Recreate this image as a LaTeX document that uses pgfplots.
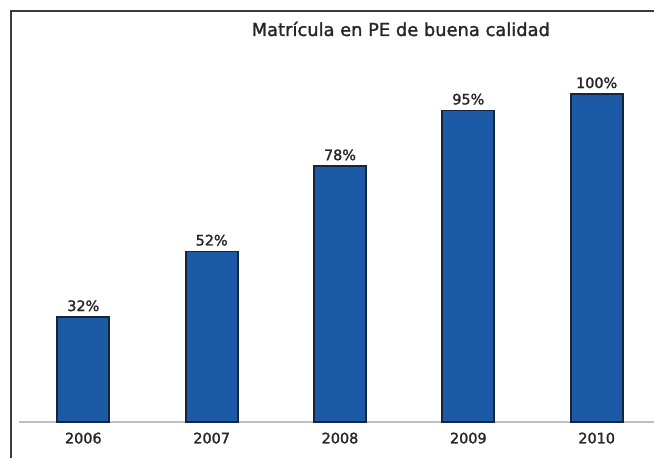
\documentclass[border=0pt]{standalone}
\usepackage{pgfplots}
\pgfplotsset{compat=1.18}
\usepackage{fontspec}
\setmainfont{DejaVu Sans}[BoldFont={DejaVu Sans}, BoldFeatures={FakeBold=1.5}]
\definecolor{barblue}{HTML}{1C5AA6}
\definecolor{barline}{HTML}{15253E}
\definecolor{txt}{HTML}{262626}
\begin{document}
\begin{tikzpicture}
\useasboundingbox (0,0) rectangle (490.5pt,343.5pt);
\fill[white] (0,0) rectangle (490.5pt,343.5pt);
\draw[line width=1.5pt, color=txt!90] (8.25pt,0) -- (8.25pt,335.25pt) -- (490.5pt,335.25pt);
\node[anchor=base, font=\fontsize{13.4}{15}\selectfont\bfseries, text=txt, inner sep=0pt] at (300.6pt,316.5pt) {Matrícula en PE de buena calidad};
\begin{axis}[
  at={(62.5pt,27pt)}, anchor=origin,
  scale only axis, width=476.25pt, height=246pt,
  xmin=-0.501, xmax=4.447, ymin=0, ymax=100,
  clip=false,
  axis x line*=bottom, axis y line=none,
  x axis line style={-, draw=gray!50, line width=0.9pt},
  xtick={0,1,2,3,4},
  xticklabels={2006,2007,2008,2009,2010},
  xtick style={draw=none},
  xticklabel style={anchor=base, yshift=-16pt, inner sep=0pt, font=\fontsize{10.8}{12}\selectfont\bfseries, text=txt},
  /pgf/number format/assume math mode=true,
  nodes near coords={\pgfmathprintnumber{\pgfplotspointmeta}\%},
  every node near coord/.append style={anchor=base, yshift=4.5pt, inner sep=0pt, font=\fontsize{10.8}{12}\selectfont\bfseries, text=txt},
]
\addplot[ybar, bar width=39pt, fill=barblue, draw=barline, line width=1.3pt] coordinates {(0,32) (1,52) (2,78) (3,95) (4,100)};
\end{axis}
\end{tikzpicture}
\end{document}
